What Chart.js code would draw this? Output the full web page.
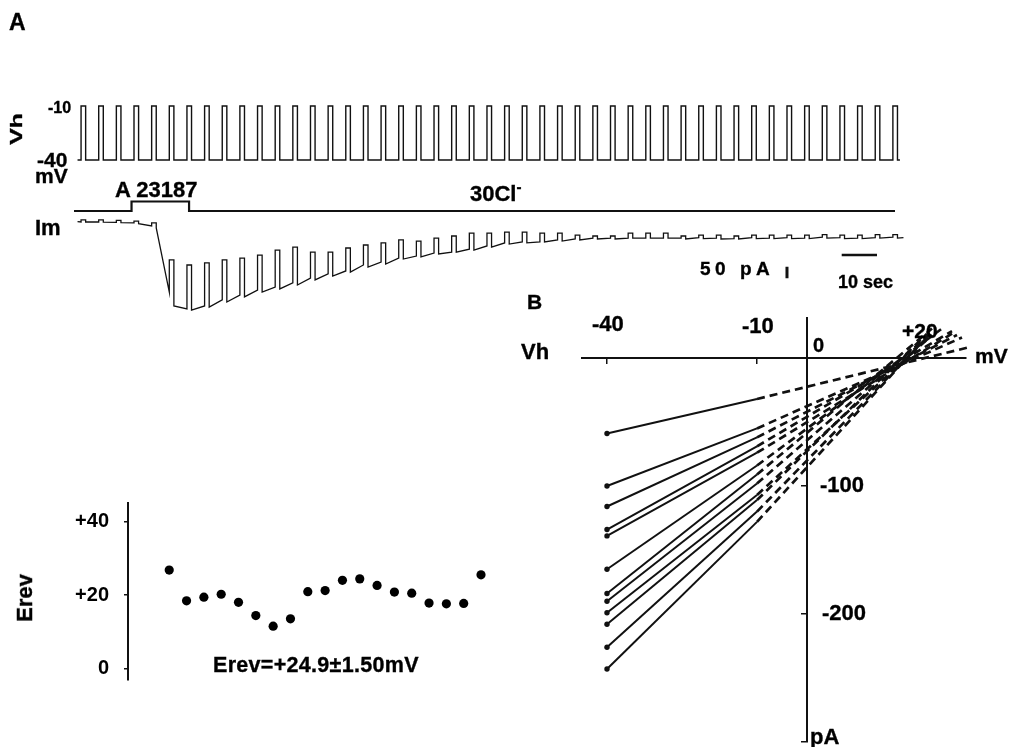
<!DOCTYPE html>
<html><head><meta charset="utf-8">
<script src="https://cdn.jsdelivr.net/npm/chart.js@4.4.0/dist/chart.umd.min.js"></script>
<style>
html,body{margin:0;padding:0;background:#fff;}
#wrap{position:relative;width:1011px;height:747px;overflow:hidden;background:#fff;}
canvas{position:absolute;left:0;top:0;}
.t{position:absolute;font-family:"Liberation Sans",Arial,Helvetica,sans-serif;font-weight:bold;color:#000;line-height:1;white-space:nowrap;-webkit-text-stroke:0.35px #000;}
.rot{transform:translate(-50%,-50%) rotate(-90deg);}
</style></head><body><div id="wrap">
<canvas id="cV" width="1011" height="747"></canvas>
<canvas id="cD" width="1011" height="747"></canvas>
<canvas id="cI" width="1011" height="747"></canvas>
<canvas id="cIV" width="1011" height="747"></canvas>
<canvas id="cE" width="1011" height="747"></canvas>

<div class="t" style="left:9px;top:11px;font-size:23px;">A</div>
<div class="t" style="left:16px;top:129px;font-size:17px;transform:translate(-50%,-50%) rotate(-90deg) scaleX(1.45);">Vh</div>
<div class="t" style="left:48px;top:100px;font-size:16px;">-10</div>
<div class="t" style="left:37px;top:149px;font-size:21px;">-40</div>
<div class="t" style="left:35px;top:165px;font-size:21px;">mV</div>
<div class="t" style="left:115px;top:179px;font-size:22px;">A 23187</div>
<div class="t" style="left:470px;top:183px;font-size:22px;">30Cl<span style="font-size:15px;position:relative;top:-9px;">-</span></div>
<div class="t" style="left:35px;top:217px;font-size:22px;">Im</div>
<div class="t" style="left:700px;top:259px;font-size:19px;letter-spacing:4.5px;">50 pA</div>
<div class="t" style="left:838px;top:273px;font-size:18px;">10 sec</div>

<div class="t" style="left:527px;top:291px;font-size:21px;">B</div>
<div class="t" style="left:521px;top:341px;font-size:22px;">Vh</div>
<div class="t" style="left:975px;top:345px;font-size:21px;">mV</div>
<div class="t" style="left:592px;top:313px;font-size:22px;">-40</div>
<div class="t" style="left:742px;top:315px;font-size:22px;">-10</div>
<div class="t" style="left:813px;top:335px;font-size:20px;">0</div>
<div class="t" style="left:902px;top:320px;font-size:21px;">+20</div>
<div class="t" style="left:820px;top:474px;font-size:22px;">-100</div>
<div class="t" style="left:822px;top:602px;font-size:22px;">-200</div>
<div class="t" style="left:810px;top:726px;font-size:22px;">pA</div>

<div class="t rot" style="left:25px;top:598px;font-size:22px;">Erev</div>
<div class="t" style="left:213px;top:655px;font-size:21.5px;letter-spacing:0.3px;">Erev=+24.9±1.50mV</div>
</div>
<script>
// ---------- Panel A: voltage protocol ----------
const pulseOnTimes = [1,6,11,16,21,26,31,36,41,46,51,56,61,66,71,76,81,86,91,96,101,106,111,116,121,126,131,136,141,146,151,156,161,166,171,176,181,186,191,196,201,206,211,216,221,226,231]; // s
const pulseWidth = 1.3;      // s
const holdV = -40;           // mV
const stepV = -10;           // mV
const traceStartT = 0;
const voltageEndT = 233;

// ---------- Panel A: A23187 application ----------
const drugOnT = 15.3;
const drugOffT = 31.6;
const drugLineStartT = -1;
const drugLineEndT = 231.6;

// ---------- Panel A: membrane current (pA) per pulse ----------
const preI  = [0,0,-2,-4,-17,-305,-378,-365,-339,-318,-296,-283,-265,-244,-226,-213,-187,-174,-157,-148,-135,-131,-118,-104,-91,-87,-87,-78,-74,-70,-70,-70,-70,-70,-70,-68,-70,-72,-68,-70,-68,-70,-66,-68,-70,-68,-66];
const stepI = [9,9,7,4,-4,-165,-187,-178,-165,-157,-144,-122,-109,-131,-131,-113,-100,-91,-78,-83,-70,-61,-48,-48,-44,-44,-48,-48,-57,-61,-61,-48,-48,-48,-61,-57,-57,-61,-57,-57,-57,-57,-55,-57,-57,-55,-55];
const postI = [0,-1,-3,-7,-26,-365,-383,-370,-348,-326,-305,-291,-274,-252,-235,-218,-196,-183,-161,-152,-139,-131,-122,-109,-96,-91,-87,-83,-78,-74,-74,-70,-70,-70,-74,-72,-74,-74,-72,-72,-72,-72,-70,-72,-72,-70,-70];
const currentStartI = 2;
const currentEndT = 234;
const currentEndI = -68;

// scale bars
const barPA = 50, barPAtime = 201, barPAtop = -195;
const barSec = 10, barSecStart = 216.5, barSecLevel = -143.5;

// ---------- Panel B: I-V relations ----------
const ivTestV = [-40, -10];
const ivIat40 = [-59,-100,-116,-134,-139,-165,-184,-190,-199,-208,-226,-243];
const ivIat10 = [-32,-55,-62,-69,-74,-84,-91,-98,-107,-111,-120,-128];
const dashEndV = [32,31,30,29,29,27,25,25,25,24,24,24];
const dashEndI = [8,16,18,21,19,23,23,20,18,19,16,17];
const ivXTicks = [-40, -10];
const ivYTicks = [-100, -200, -300];

// ---------- Erev plot ----------
const erevSample = [1,2,3,4,5,6,7,8,9,10,11,12,13,14,15,16,17,18,19];
const erevValues = [26.8,18.4,19.4,20.2,18.0,14.4,11.5,13.5,20.9,21.2,24.0,24.4,22.6,20.8,20.5,17.8,17.6,17.7,25.5];
const erevTicks = [0, 20, 40];

// ---------- build chart data ----------
const INK = '#111';
const vPts = [{x: traceStartT, y: holdV}];
pulseOnTimes.forEach(t => { vPts.push({x:t,y:holdV},{x:t,y:stepV},{x:t+pulseWidth,y:stepV},{x:t+pulseWidth,y:holdV}); });
vPts.push({x: voltageEndT, y: holdV});

const dPts = [{x:drugLineStartT,y:0},{x:drugOnT,y:0},{x:drugOnT,y:1},{x:drugOffT,y:1},{x:drugOffT,y:0},{x:drugLineEndT,y:0}];

const iPts = [{x: traceStartT, y: currentStartI}];
pulseOnTimes.forEach((t,k) => { iPts.push({x:t,y:preI[k]},{x:t,y:stepI[k]},{x:t+pulseWidth,y:stepI[k]},{x:t+pulseWidth,y:postI[k]}); });
iPts.push({x: currentEndT, y: currentEndI});

function hid(min,max){ return {type:'linear', display:false, min:min, max:max}; }
function base(pad, datasets, xs, ys){
  return {type:'line', data:{datasets:datasets}, options:{responsive:false, animation:false, devicePixelRatio:1, events:[],
    layout:{padding:pad}, plugins:{legend:{display:false}, tooltip:{enabled:false}}, scales:{x:xs, y:ys}}};
}
function lineDs(pts, w, extra){ return Object.assign({data:pts, borderColor:INK, borderWidth:w, pointRadius:0, tension:0, fill:false, clip:false}, extra||{}); }

// voltage: x px = 74 + (t+1)*833/236 ; y: -40 -> 160 , -10 -> 106
new Chart(document.getElementById('cV'), base({left:74,right:104,top:100,bottom:582},
  [lineDs(vPts,1.4)], hid(-1,235), hid(-42.78,-6.667)));

// drug bar: 0 -> 211, 1 -> 201.5
new Chart(document.getElementById('cD'), base({left:74,right:104,top:195,bottom:532},
  [lineDs(dPts,2.2)], hid(-1,235), hid(-0.421,1.684)));

// current: 0 pA -> 222 px, 4.35 pA/px
new Chart(document.getElementById('cI'), base({left:74,right:104,top:215,bottom:427},
  [lineDs(iPts,1.3),
   lineDs([{x:barPAtime,y:barPAtop},{x:barPAtime,y:barPAtop-barPA}],3),
   lineDs([{x:barSecStart,y:barSecLevel},{x:barSecStart+barSec,y:barSecLevel}],2.5)],
  hid(-1,235), hid(-426.3,30.45)));

// I-V panel
const ivDs = [];
ivIat40.forEach((a,i) => {
  ivDs.push(lineDs([{x:ivTestV[0],y:a},{x:ivTestV[1],y:ivIat10[i]}],2,{pointRadius:[2.7,0],pointBackgroundColor:INK,pointBorderWidth:0}));
  ivDs.push(lineDs([{x:ivTestV[1],y:ivIat10[i]},{x:dashEndV[i],y:dashEndI[i]}],2.7,{borderDash:[8,5]}));
});
const axisCommon = {display:true, grid:{display:true, drawOnChartArea:false, drawTicks:true, tickLength:5, color:INK, lineWidth:1.5},
  border:{display:true, color:INK, width:2}, ticks:{display:false}};
new Chart(document.getElementById('cIV'), base({left:582,right:45,top:318,bottom:5}, ivDs,
  Object.assign({type:'linear', min:-45, max:31.8, position:{y:0},
    afterBuildTicks:s=>{s.ticks = ivXTicks.map(v=>({value:v}));}, afterFit:s=>{s.height=0;}}, axisCommon),
  Object.assign({type:'linear', min:-300, max:31.25, position:{x:0},
    afterBuildTicks:s=>{s.ticks = ivYTicks.map(v=>({value:v}));}, afterFit:s=>{s.width=0;}}, axisCommon)));

// Erev panel
new Chart(document.getElementById('cE'), {type:'scatter',
  data:{datasets:[{data: erevSample.map((s,i)=>({x:s, y:erevValues[i]})), pointRadius:4.6, pointBackgroundColor:'#000', pointBorderWidth:0}]},
  options:{responsive:false, animation:false, devicePixelRatio:1, events:[], layout:{padding:{left:68,right:504,top:503,bottom:67}},
    plugins:{legend:{display:false}, tooltip:{enabled:false}},
    scales:{x:{type:'linear', display:false, min:-1.38, max:20.5},
      y:{type:'linear', min:-3.19, max:45.1, position:'left',
        afterBuildTicks:s=>{s.ticks = erevTicks.map(v=>({value:v}));}, afterFit:s=>{s.width=60;},
        grid:{display:true, drawOnChartArea:false, drawTicks:true, tickLength:4, color:INK, lineWidth:1.5},
        border:{display:true, color:INK, width:2},
        ticks:{color:'#000', padding:15, font:{family:'"Liberation Sans", Arial, sans-serif', weight:'bold', size:20},
          callback:v => v>0 ? '+'+v : String(v)}}}}});
</script></body></html>
